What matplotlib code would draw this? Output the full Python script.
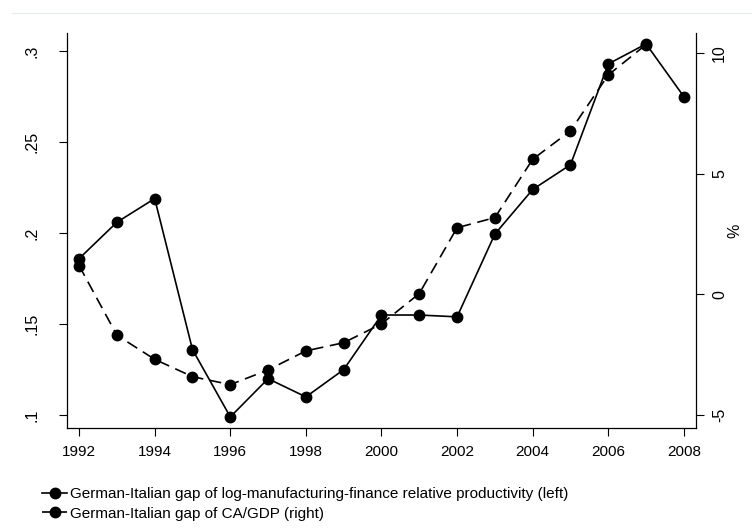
import matplotlib
matplotlib.use("Agg")
import matplotlib.pyplot as plt
from matplotlib.lines import Line2D

plt.rcParams["font.family"] = ["Liberation Sans", "DejaVu Sans"]

# German-Italian gaps, 1992-2008
years = list(range(1992, 2009))
prod_gap = [0.186, 0.206, 0.219, 0.136, 0.099, 0.120, 0.110, 0.125, 0.155,
            0.155, 0.154, 0.1995, 0.224, 0.2376, 0.293, 0.304, 0.275]
ca_years = list(range(1992, 2008))
ca_gap = [1.19, -1.70, -2.70, -3.42, -3.75, -3.14, -2.35, -2.01, -1.23,
          0.03, 2.76, 3.18, 5.60, 6.78, 9.10, 10.36]

left_ticks = [0.1, 0.15, 0.2, 0.25, 0.3]
left_labels = [".1", ".15", ".2", ".25", ".3"]
right_ticks = [-5, 0, 5, 10]
x_ticks = list(range(1992, 2009, 2))

FS_H = 11     # horizontal text
FS_V = 11.5   # rotated y tick labels

fig = plt.figure(figsize=(7.52, 5.29), dpi=100)
fig.patch.set_facecolor("white")
ax = fig.add_axes([0.0891, 0.1909, 0.8364, 0.7467])
ax2 = ax.twinx()

ax.plot(years, prod_gap, color="black", lw=1.2, marker="o", ms=7.5,
        label="German-Italian gap of log-manufacturing-finance relative productivity (left)")
ax2.plot(ca_years, ca_gap, color="black", lw=1.2, ls=(0, (7, 4)), marker="o", ms=7.5,
         label="German-Italian gap of CA/GDP (right)")

ax.set_xlim(1991.68, 2008.32)
ax.set_ylim(0.0929, 0.310)
ax2.set_ylim(-5.55, 10.84)

ax.set_xticks(x_ticks)
ax.set_yticks(left_ticks)
ax.set_yticklabels(left_labels, rotation=90, va="center")
ax2.set_yticks(right_ticks)
ax2.set_yticklabels([str(t) for t in right_ticks], rotation=90, va="center")
ax2.set_ylabel("%", fontsize=FS_V, labelpad=0)

for a in (ax, ax2):
    a.tick_params(direction="out", length=5.5, width=0.8, color="black")
    a.spines["top"].set_visible(False)
    for s in ("left", "right", "bottom"):
        a.spines[s].set_linewidth(0.9)
ax.tick_params(axis="x", labelsize=FS_H, pad=7)
ax.tick_params(axis="y", labelsize=FS_V, pad=14)
ax2.tick_params(axis="y", labelsize=FS_V, pad=6)
ax.spines["right"].set_visible(False)
ax2.spines["left"].set_visible(False)
ax2.spines["bottom"].set_visible(False)

# faint outer graph-region border line at the top
fig.add_artist(Line2D([0.016, 1.0], [0.975, 0.975], color="#e6ecee", lw=0.8,
                      transform=fig.transFigure))

h1, l1 = ax.get_legend_handles_labels()
h2, l2 = ax2.get_legend_handles_labels()
fig.legend(h1 + h2, l1 + l2, loc="upper left", bbox_to_anchor=(0.056, 0.079),
           frameon=False, fontsize=FS_H, handlelength=1.65, handletextpad=0.15,
           labelspacing=0.35, borderaxespad=0, borderpad=0)

fig.savefig("out.png", dpi=100, facecolor="white")
